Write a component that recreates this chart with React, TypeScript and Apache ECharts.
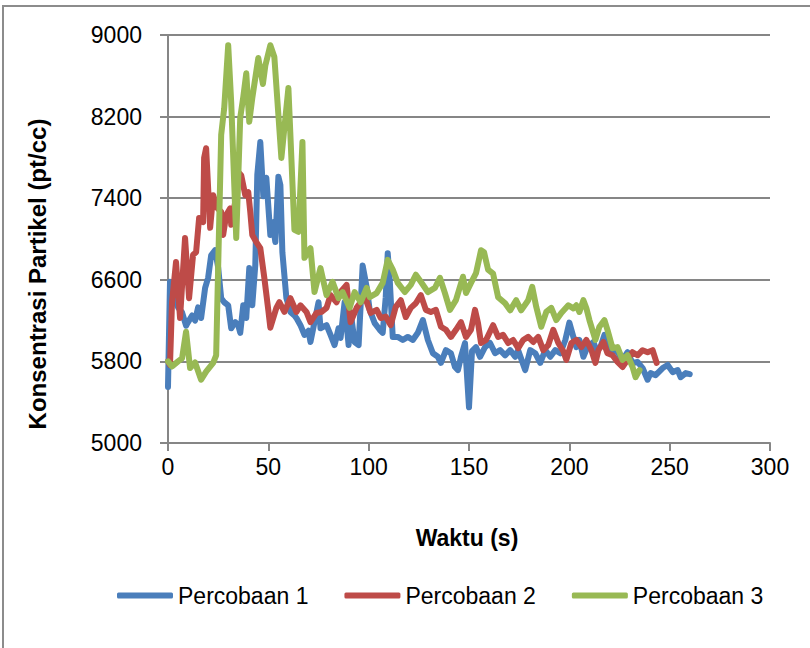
import React, { useEffect, useRef } from "react";
import * as echarts from "echarts";

const seriesNames = ["Percobaan 1", "Percobaan 2", "Percobaan 3"];
const seriesColors = ["#4A7EBB", "#BE4B48", "#98B954"];

const xTicks = [0, 50, 100, 150, 200, 250, 300];
const yTicks = [5000, 5800, 6600, 7400, 8200, 9000];

// Percobaan 1: [waktu (s), konsentrasi]
const percobaan1: [number, number][] = [
  [0, 5550], [1, 6580], [3, 6420], [5, 6330], [7, 6280], [9, 6150], [10, 6185], [12, 6250],
  [13.5, 6200], [15, 6330], [16.5, 6225], [18.5, 6520], [20, 6620], [21.5, 6840], [23.5, 6890],
  [25, 6720], [26.5, 6420], [28, 6380], [30, 6350], [31.5, 6125], [33.5, 6185], [35, 6155],
  [36, 6080], [37.5, 6350], [39, 6225], [40.5, 6715], [42, 6350], [43.5, 6745], [44.5, 7630],
  [46, 7950], [47.5, 7420], [49, 7600], [51, 7040], [52, 7165], [53.5, 6970], [55, 7610],
  [56, 7530], [57, 6870], [59, 6420], [61, 6285], [63, 6250], [64, 6225], [66, 6155], [68, 6060],
  [70, 6100], [71, 5990], [73, 6185], [75, 6380], [76, 6125], [79, 6155], [81, 6060], [83, 5960],
  [85, 6125], [86, 6030], [88, 6380], [90, 5960], [91, 6285], [93, 5990], [95, 5960], [97, 6740],
  [99, 6530], [100.5, 6305], [103, 6175], [105.5, 6110], [107, 6080], [108.5, 6430], [109.5, 6860],
  [110.5, 6600], [112, 6040], [114.5, 6040], [117, 6010], [119.5, 6040], [122, 6010], [124.5, 6080],
  [127, 6205], [129.5, 6010], [132, 5880], [134.5, 5845], [136, 5785], [138.5, 5910], [141, 5880],
  [143, 5745], [144.5, 5715], [146, 5845], [148, 5980], [150, 5350], [151.5, 5900], [153.5, 5940],
  [155.5, 5845], [158, 5940], [160.5, 5980], [163, 5880], [165.5, 5910], [168, 5860], [170.5, 5910],
  [173, 5845], [174.5, 5910], [178, 5715], [180.5, 5910], [183, 5880], [185.5, 5785], [188, 5910],
  [190.5, 5845], [193, 5910], [195.5, 5880], [198, 6010], [200, 6180], [202, 6040], [203.5, 5940],
  [205, 6010], [207, 5845], [209, 5940], [212, 5990], [213.5, 5910], [215.5, 5940], [217.5, 6060],
  [219, 5940], [221.5, 5910], [224, 5890], [226.5, 5815], [229, 5890], [231.5, 5785], [234, 5795],
  [236.5, 5735], [239, 5620], [240.5, 5685], [243, 5665], [246.5, 5735], [249, 5765], [251.5, 5695],
  [254, 5715], [255.5, 5645], [258, 5685], [260, 5675],
];

// Percobaan 2
const percobaan2: [number, number][] = [
  [0, 5800], [1, 5765], [2, 6380], [4, 6775], [6, 6225], [8.5, 7010], [10.5, 6420], [12.5, 6845],
  [14, 6870], [15.5, 7205], [17.5, 7165], [18, 7795], [19, 7890], [21, 7110], [22.5, 7430],
  [24.5, 7305], [26.5, 7265], [27.5, 7040], [29, 7235], [31, 7300], [31.5, 7140], [33.5, 7365],
  [35, 7655], [36.5, 7625], [38.5, 7430], [40, 7460], [41, 7265], [42, 7040], [44, 6970],
  [46, 6910], [48, 6620], [50, 6300], [51, 6130], [54, 6325], [55.5, 6380], [58, 6285], [61, 6420],
  [64, 6285], [66, 6350], [69, 6285], [71, 6185], [74, 6275], [76.5, 6285], [79, 6325], [81, 6450],
  [84, 6380], [86, 6480], [89, 6550], [91, 6185], [94, 6325], [96, 6380], [98, 6440], [101, 6275],
  [104, 6305], [106, 6225], [108.5, 6240], [111, 6155], [113.5, 6335], [116, 6400], [118.5, 6235],
  [121, 6325], [123.5, 6370], [126, 6450], [128.5, 6305], [131, 6285], [133.5, 6305], [136, 6140],
  [138.5, 6110], [141, 6040], [143.5, 6110], [146, 6185], [148.5, 6040], [151, 6110], [153, 6305],
  [154.5, 6175], [156, 5980], [158.5, 6010], [162, 6155], [164.5, 6040], [167, 6060], [169.5, 5980],
  [172, 6010], [174.5, 5930], [177, 6010], [179.5, 6040], [182, 5990], [184.5, 6040], [187, 5910],
  [189.5, 5960], [192, 6110], [194.5, 5980], [197, 5900], [198.5, 5815], [201, 5980], [203.5, 6010],
  [206, 5940], [208.5, 6010], [211, 5910], [213, 5785], [214.5, 5910], [217, 5990], [219, 5880],
  [221.5, 5860], [224, 5795], [226.5, 5745], [229, 5815], [231.5, 5890], [234, 5860], [236.5, 5910],
  [239, 5890], [241.5, 5910], [243.5, 5785],
];

// Percobaan 3
const percobaan3: [number, number][] = [
  [0, 5800], [2, 5750], [5, 5800], [7, 5830], [9, 6090], [11, 5735], [13.5, 5790], [16.5, 5620],
  [19, 5700], [22.5, 5785], [24, 5860], [26.5, 8020], [28, 8280], [30, 8900], [31.5, 8340],
  [34, 7010], [36, 8190], [37.5, 8390], [39, 8625], [40.5, 8150], [42, 8380], [45, 8775],
  [47.3, 8520], [48.5, 8700], [51, 8900], [53, 8785], [56.5, 7795], [60, 8480], [63, 7090],
  [65, 7070], [67, 7950], [68, 6815], [71, 6910], [73, 6480], [76, 6715], [79, 6450], [82, 6580],
  [85, 6420], [87, 6480], [90.5, 6325], [93, 6480], [96, 6380], [99, 6520], [100.5, 6430],
  [104, 6470], [107, 6570], [109.5, 6795], [112, 6700], [114.5, 6570], [118, 6480], [121, 6550],
  [123.5, 6650], [126, 6580], [129.5, 6480], [133, 6520], [135.5, 6620], [138, 6470], [140.5, 6305],
  [143.5, 6400], [147, 6630], [148.5, 6470], [151, 6570], [153.5, 6665], [156, 6890], [157.5, 6870],
  [159.5, 6700], [162, 6660], [164.5, 6430], [168, 6370], [170.5, 6300], [173.5, 6400], [176, 6300],
  [179.5, 6400], [181.5, 6530], [183.5, 6335], [186, 6140], [188.5, 6285], [191, 6325], [193.5, 6205],
  [196, 6275], [199.5, 6350], [202, 6320], [203.5, 6350], [205, 6285], [207, 6400], [208.5, 6320],
  [210, 6205], [213, 6010], [215, 6140], [217.5, 6205], [219, 6110], [221.5, 5930], [224, 5940],
  [226.5, 5815], [229, 5860], [231.5, 5745], [233, 5645], [235, 5715],
];

const allSeries = [percobaan1, percobaan2, percobaan3];

const FONT = "'Liberation Sans', Arial, sans-serif";
const GRID_COLOR = "#868686";

export default function App() {
  const ref = useRef<HTMLDivElement>(null);

  useEffect(() => {
    if (!ref.current) return;
    const chart = echarts.init(ref.current, undefined, { renderer: "svg" });
    chart.setOption({
      animation: false,
      backgroundColor: "#ffffff",
      grid: { left: 168, right: 40, top: 35, bottom: 205, containLabel: false },
      xAxis: {
        type: "value",
        min: xTicks[0],
        max: xTicks[xTicks.length - 1],
        interval: 50,
        axisLine: { show: true, lineStyle: { color: GRID_COLOR, width: 2 } },
        axisTick: { show: true, length: 8, inside: false, lineStyle: { color: GRID_COLOR, width: 2 } },
        splitLine: { show: false },
        axisLabel: {
          margin: 12,
          color: "#000",
          fontFamily: FONT,
          fontSize: 23,
          formatter: (v: number) => String(v),
        },
      },
      yAxis: {
        type: "value",
        min: yTicks[0],
        max: yTicks[yTicks.length - 1],
        interval: 800,
        axisLine: { show: true, lineStyle: { color: GRID_COLOR, width: 2 } },
        axisTick: { show: true, length: 8, inside: false, lineStyle: { color: GRID_COLOR, width: 2 } },
        splitLine: { show: true, lineStyle: { color: GRID_COLOR, width: 2 } },
        axisLabel: {
          margin: 26,
          color: "#000",
          fontFamily: FONT,
          fontSize: 23,
          formatter: (v: number) => String(v),
        },
      },
      legend: {
        left: 112,
        top: 579,
        itemWidth: 56,
        itemHeight: 6,
        itemGap: 36,
        icon: "roundRect",
        textStyle: { color: "#000", fontFamily: FONT, fontSize: 23 },
        data: seriesNames,
      },
      graphic: [
        {
          type: "rect",
          shape: { x: 3, y: 6, width: 900, height: 900 },
          style: { fill: "none", stroke: "#8c8c8c", lineWidth: 2 },
          silent: true,
        },
        {
          type: "text",
          x: 37,
          y: 274,
          rotation: Math.PI / 2,
          style: {
            text: "Konsentrasi Partikel (pt/cc)",
            fontFamily: FONT,
            fontSize: 24,
            fontWeight: "bold",
            fill: "#000",
            align: "center",
            verticalAlign: "middle",
          },
        },
        {
          type: "text",
          x: 467,
          y: 538,
          style: {
            text: "Waktu (s)",
            fontFamily: FONT,
            fontSize: 23,
            fontWeight: "bold",
            fill: "#000",
            align: "center",
            verticalAlign: "middle",
          },
        },
      ],
      series: allSeries.map((d, i) => ({
        name: seriesNames[i],
        type: "line",
        data: d,
        showSymbol: false,
        symbol: "none",
        color: seriesColors[i],
        lineStyle: { width: 6, color: seriesColors[i], join: "round", cap: "round" },
        z: 2 + i,
      })),
    });
    return () => chart.dispose();
  }, []);

  return (
    <div
      ref={ref}
      style={{ position: "fixed", left: 0, top: 0, width: 810, height: 648, background: "#fff" }}
    />
  );
}
